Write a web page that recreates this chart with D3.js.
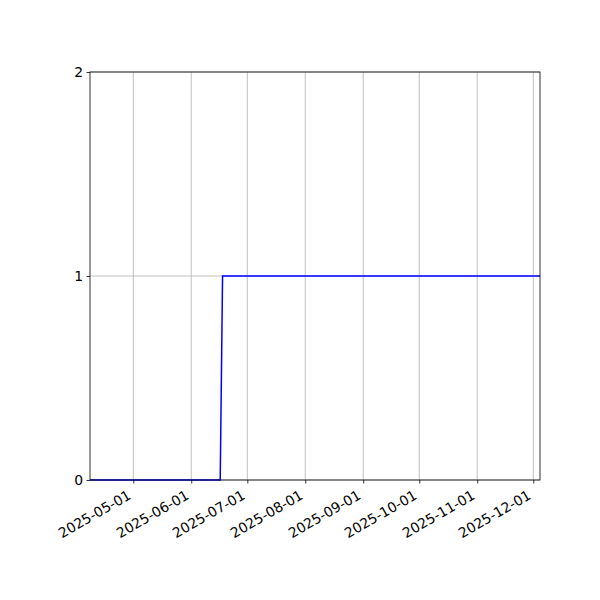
<!DOCTYPE html>
<html><head><meta charset="utf-8">
<script src="https://cdn.jsdelivr.net/npm/d3@7"></script>
<style>body{margin:0;background:#fff}svg{display:block}text{font-family:"DejaVu Sans",sans-serif}</style>
</head><body><div id="c"></div>
<script>
const dates = ["2025-04-07T20:00", "2025-06-16T12:00", "2025-06-17T18:00", "2025-12-04T14:00"];
const values = [0, 0, 1, 1];
const xTicks = ["2025-05-01","2025-06-01","2025-07-01","2025-08-01","2025-09-01","2025-10-01","2025-11-01","2025-12-01"];
const yTicks = [0, 1, 2];

const W = 600, H = 600, L = 90, R = 540, T = 72, B = 480;
const fmt = d3.timeFormat("%Y-%m-%d");
const data = dates.map((d, i) => ({d: new Date(d), v: values[i]}));
const x = d3.scaleTime().domain([data[0].d, data[data.length-1].d]).range([L, R]);
const y = d3.scaleLinear().domain([0, 2]).range([B, T]);

const svg = d3.select("#c").append("svg").attr("width", W).attr("height", H);
const tickDates = xTicks.map(t => new Date(t + "T00:00"));

// grid
svg.append("g").selectAll("line").data(tickDates).join("line")
  .attr("x1", d => x(d)).attr("x2", d => x(d)).attr("y1", T).attr("y2", B)
  .attr("stroke", "#b0b0b0").attr("stroke-width", 0.8);
svg.append("g").selectAll("line").data(yTicks).join("line")
  .attr("x1", L).attr("x2", R).attr("y1", d => y(d)).attr("y2", d => y(d))
  .attr("stroke", "#b0b0b0").attr("stroke-width", 0.8);

// line
svg.append("path").datum(data)
  .attr("d", d3.line().x(d => x(d.d)).y(d => y(d.v)))
  .attr("fill", "none").attr("stroke", "#0000ff").attr("stroke-width", 1.5);

// axes
const xa = svg.append("g").attr("transform", `translate(0,${B})`)
  .call(d3.axisBottom(x).tickValues(tickDates).tickFormat(fmt).tickSize(3.5).tickPadding(3.5));
xa.select(".domain").remove();
xa.selectAll(".tick line").attr("stroke", "#000").attr("stroke-width", 0.8);
xa.selectAll(".tick text").attr("font-size", 13.9).attr("fill", "#000")
  .attr("text-anchor", "end").attr("dy", "0.75em").attr("y", 0)
  .attr("transform", "translate(-7,9) rotate(-30)");

const ya = svg.append("g").attr("transform", `translate(${L},0)`)
  .call(d3.axisLeft(y).tickValues(yTicks).tickFormat(d3.format("d")).tickSize(3.5).tickPadding(3.5));
ya.select(".domain").remove();
ya.selectAll(".tick line").attr("stroke", "#000").attr("stroke-width", 0.8);
ya.selectAll(".tick text").attr("font-size", 13.9).attr("fill", "#000");

svg.append("rect").attr("x", L).attr("y", T).attr("width", R - L).attr("height", B - T)
  .attr("fill", "none").attr("stroke", "#000").attr("stroke-width", 0.8);
</script></body></html>
